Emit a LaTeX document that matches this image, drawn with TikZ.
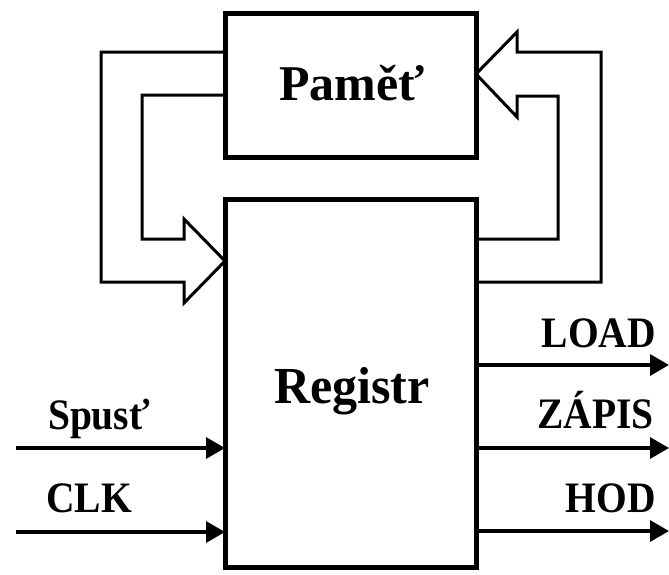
\documentclass[tikz,border=0pt]{standalone}
\usepackage{fontspec}
\setmainfont{Liberation Serif}
\usetikzlibrary{arrows.meta,calc}
\newcommand\tallsig[1]{\scalebox{1}[1.1]{#1}}
\begin{document}
\begin{tikzpicture}[x=1pt,y=-1pt,
  blockbox/.style={draw,line width=5pt,minimum width=251pt,inner sep=0pt,outer sep=0pt},
  bigtext/.style={font=\bfseries\fontsize{50}{50}\selectfont,inner sep=0pt},
  sigtext/.style={font=\bfseries\fontsize{39.5}{40}\selectfont,inner sep=0pt,anchor=base},
  hollow/.style={line width=3pt,line join=miter},
  sig/.style={line width=3.3pt,-{Triangle[length=19pt,width=21pt]}}]
\useasboundingbox (0,0) rectangle (669,574);
\node[blockbox,minimum height=144pt] (mem) at (350.5,85) {};
\node[blockbox,minimum height=368pt] (reg) at (350.5,383) {};
\node[bigtext,anchor=base] (memt) at (352,100) {Paměť};
\node[bigtext,anchor=base] (regt) at (352,403) {\scalebox{1}[1.04]{Registr}};
% feedback: memory -> register
\draw[hollow] (mem.west |- 0,52) -- (101,52) -- (101,282) -- (184,282) -- (184,303)
  -- (reg.west |- 0,261) -- (184,219) -- (184,239) -- (142,239) -- (142,95) -- (mem.west |- 0,95);
% feedback: register -> memory
\draw[hollow] (reg.east |- 0,239) -- (558,239) -- (558,96) -- (517,96) -- (517,117)
  -- (mem.east |- 0,74) -- (517,32) -- (517,52) -- (601,52) -- (601,282) -- (reg.east |- 0,282);
% inputs
\coordinate (in1) at (16,448);
\coordinate (in2) at (16,532);
\draw[sig] (in1) -- (reg.west |- in1);
\draw[sig] (in2) -- (reg.west |- in2);
\node[sigtext] (spust) at (99,429) {\tallsig{Spusť}};
\node[sigtext] (clk) at (89,512) {\tallsig{CLK}};
% outputs
\coordinate (out1) at (669,365);
\coordinate (out2) at (669,448);
\coordinate (out3) at (669,531);
\draw[sig] (reg.east |- out1) -- (out1);
\draw[sig] (reg.east |- out2) -- (out2);
\draw[sig] (reg.east |- out3) -- (out3);
\node[sigtext,anchor=base east] (load) at (656,347) {\tallsig{LOAD}};
\node[sigtext,anchor=base east] (zapis) at (654,428) {\tallsig{ZÁPIS}};
\node[sigtext,anchor=base east] (hod) at (656,512) {\tallsig{HOD}};
\end{tikzpicture}
\end{document}
